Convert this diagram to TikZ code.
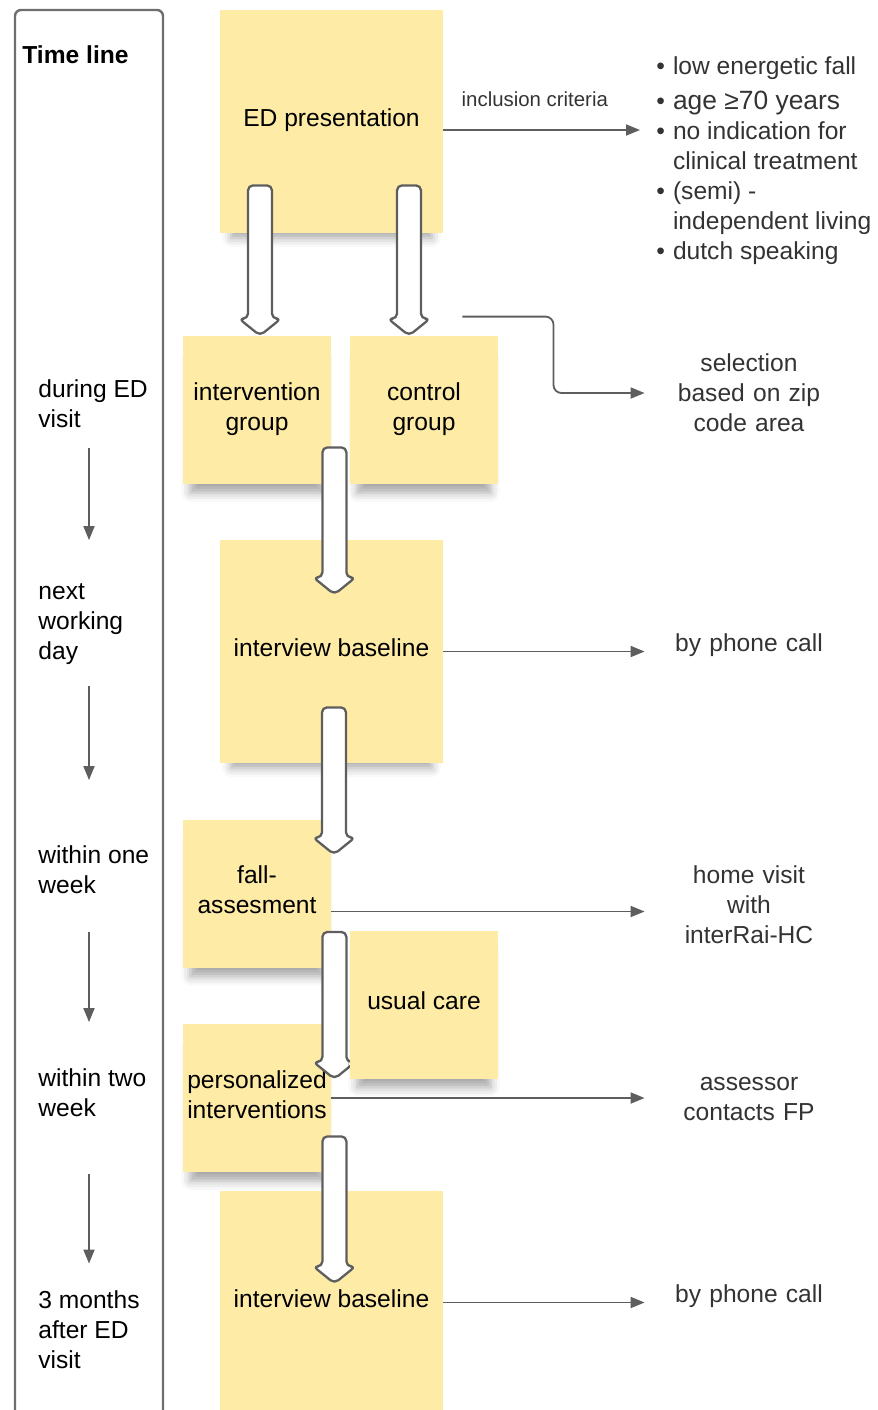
\documentclass[tikz,border=0pt]{standalone}
\usepackage{fontspec}
\setmainfont{Liberation Sans}
\usepackage{tikz}
\usetikzlibrary{positioning,calc,arrows.meta,shadows.blur}
\usepackage{xcolor}

\definecolor{noteyellow}{HTML}{FEEBA6}
\definecolor{linegray}{HTML}{5E5E5E}
\definecolor{sidegray}{HTML}{333333}

\tikzset{
  note/.style={fill=noteyellow, align=center, inner sep=0pt, text depth=3.5pt,
    blur shadow={shadow xshift=0pt, shadow yshift=-9pt, shadow scale=0.9,
      shadow opacity=35, shadow blur radius=5pt}},
  bignote/.style={note, minimum width=111.5pt, minimum height=111.5pt},
  smallnote/.style={note, minimum width=74pt, minimum height=74pt},
  tltext/.style={anchor=west, align=left, inner sep=0pt},
  sidetext/.style={text=sidegray, align=center, text width=100pt, inner sep=2pt},
  thinarrow/.style={draw=linegray, line width=0.9pt, -{Triangle[length=7pt, width=5.5pt]}},
  fatline/.style={draw=linegray, fill=white, line width=1.15pt, rounded corners=2.5pt, line join=round},
  tlbox/.style={draw=linegray!90, line width=1.2pt, rounded corners=3pt}
}

\newcommand{\fatarrow}[2]{%
  \draw[fatline] let \p1=(#1), \p2=(#2) in
    (\x1-6pt,\y1) -- (\x1+6pt,\y1) -- (\x1+6pt,\y2+8.5pt) -- (\x1+10.5pt,\y2+8.5pt)
    -- (\x1,\y2) -- (\x1-10.5pt,\y2+8.5pt) -- (\x1-6pt,\y2+8.5pt) -- cycle;}

\begin{document}
\begin{tikzpicture}[x=0.5pt, y=-0.5pt,
    every node/.style={font=\fontsize{12.3}{15}\selectfont}]
    \useasboundingbox (0,0) rectangle (878,1410);

    % Time line column
    \draw[tlbox] (15,1440) -- (15,10) -- (163,10) -- (163,1440);
    \coordinate (tl) at (89,10);
    \node[anchor=west, inner sep=0pt, font=\fontsize{12.3}{15}\selectfont\bfseries] (title) at (22,55) {Time line};

    \node[tltext] (t1) at (38,404) {during ED\\visit};
    \node[tltext] (t2) at (38,624) {next\\working\\day};
    \node[tltext] (t3) at (38,869.5) {within one\\week};
    \node[tltext] (t4) at (38,1092.5) {within two\\week};
    \node[tltext] (t5) at (38,1330) {3 months\\after ED\\visit};

    \foreach \from/\to/\s/\e in {t1/t2/20/43, t2/t3/21/65, t3/t4/38/46, t4/t5/57/27}
        \draw[thinarrow] ($(\from.south -| tl)+(0,\s)$) -- ($(\to.north -| tl)+(0,-\e)$);

    % Sticky notes
    \node[bignote] (ed) at (331.5,121.5) {ED presentation};
    \node[smallnote] (iv) at (257,410) {intervention\\group};
    \node[smallnote] (ctl) at (424,410) {control\\group};
    \node[bignote] (ib1) at (331.5,651.5) {interview baseline};
    \node[smallnote] (fa) at (257,893.5) {fall-\\assesment};
    \node[smallnote] (pi) at (257,1098) {personalized\\interventions};
    \node[bignote] (ib2) at (331.5,1302.5) {interview baseline};

    % Block arrows
    \coordinate (a1) at ($(ed.south)+(-71.5,-48)$);
    \coordinate (a2) at ($(ed.south)+(77.5,-48)$);
    \coordinate (a3) at ($(iv.south east)+(3,-37)$);
    \coordinate (a4) at ($(ib1.south)+(2.5,-56)$);
    \coordinate (a5) at ($(fa.south east)+(3,-36)$);
    \coordinate (a6) at ($(pi.south east)+(3,-36)$);
    \fatarrow{a1}{a1 |- iv.north}
    \fatarrow{a2}{a2 |- ctl.north}
    \fatarrow{a3}{$(a3)+(0,147)$}
    \fatarrow{a4}{$(a4)+(0,147)$}
    \fatarrow{a5}{$(a5)+(0,147)$}
    \fatarrow{a6}{$(a6)+(0,147)$}

    \node[smallnote] (uc) at (424,1004.5) {usual care};

    % Side notes
    \node[anchor=base west, inner sep=0pt, text=sidegray] (crit) at (656,74) {%
        \begin{tabular}[t]{@{}l@{\hspace{4pt}}l@{}}
        \textbullet & low energetic fall\\[2.5pt]
        \textbullet & {\fontsize{13.2}{15}\selectfont age ≥70 years}\\
        \textbullet & no indication for\\
                    & clinical treatment\\
        \textbullet & (semi) -\\
                    & independent living\\
        \textbullet & dutch speaking
        \end{tabular}};
    \node[sidetext] (zip) at (749,393) {selection\\based on zip\\code area};
    \node[sidetext] (ph1) at (749,645) {by phone call};
    \node[sidetext] (hv) at (749,905) {home visit\\with\\interRai-HC};
    \node[sidetext] (as) at (749,1098.5) {assessor\\contacts FP};
    \node[sidetext] (ph2) at (749,1296) {by phone call};

    % Connectors
    \draw[thinarrow, shorten >=8pt] ([yshift=-4.25pt]ed.east) -- ([yshift=-4.25pt]ed.east -| crit.west)
        node[pos=0.43, above=11pt, inner sep=0pt, text=sidegray, font=\fontsize{10.2}{12}\selectfont] (inc) {inclusion criteria};
    \coordinate (zs) at ($(ctl.north east)+(-36,-19)$);
    \coordinate (zm) at ($(zs)!.5!(zip.west)$);
    \draw[thinarrow, rounded corners=4pt] (zs) -| (zm) |- (zip.west);
    \draw[thinarrow] (ib1.east) -- (ib1.east -| ph1.west);
    \draw[thinarrow] ([yshift=-9pt]fa.east) -- ([yshift=-9pt]fa.east -| hv.west);
    \draw[thinarrow] (pi.east) -- (pi.east -| as.west);
    \draw[thinarrow] (ib2.east) -- (ib2.east -| ph2.west);
\end{tikzpicture}
\end{document}
